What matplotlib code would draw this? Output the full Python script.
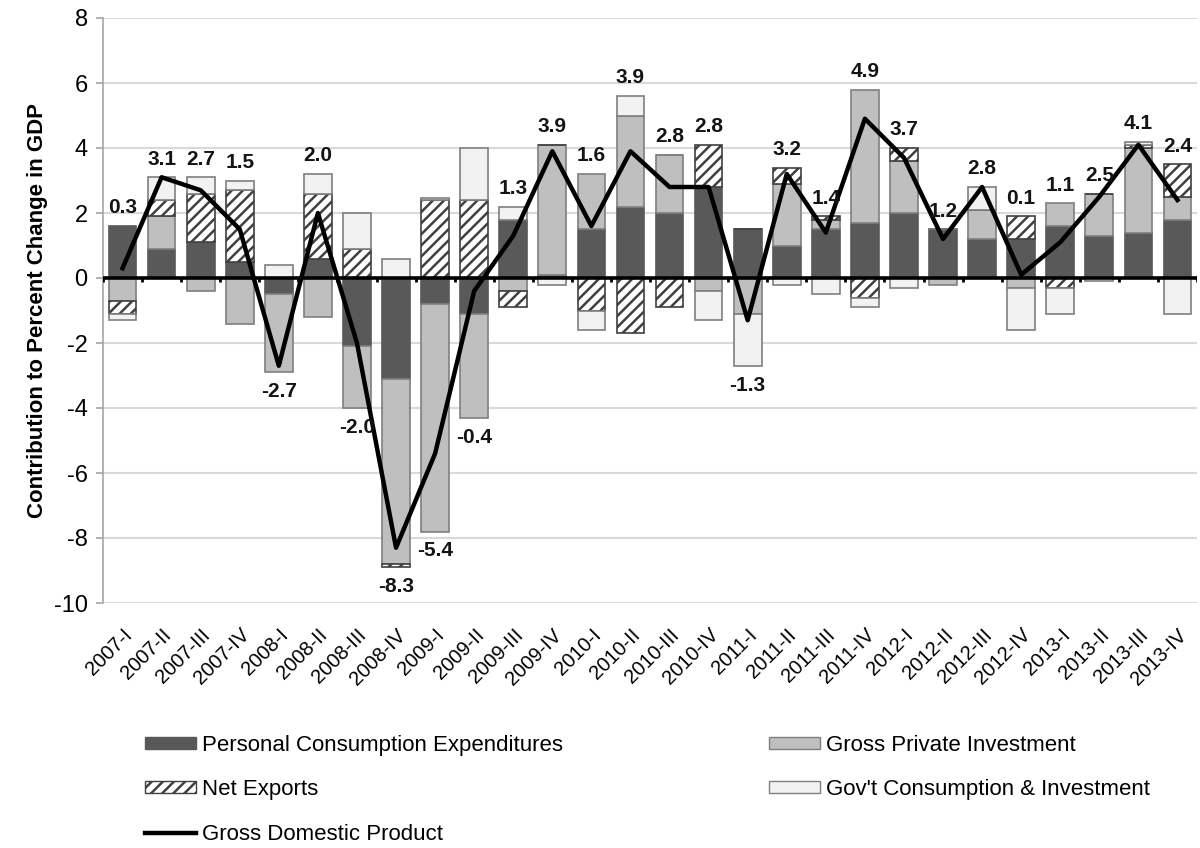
import numpy as np
import matplotlib
matplotlib.use('Agg')
import matplotlib.pyplot as plt
from matplotlib.patches import Patch
from matplotlib.lines import Line2D

plt.rcParams['font.family'] = ['Liberation Sans', 'DejaVu Sans']
plt.rcParams['hatch.linewidth'] = 1.8
plt.rcParams['axes.unicode_minus'] = False

quarters = ['2007-I', '2007-II', '2007-III', '2007-IV', '2008-I', '2008-II', '2008-III', '2008-IV',
            '2009-I', '2009-II', '2009-III', '2009-IV', '2010-I', '2010-II', '2010-III', '2010-IV',
            '2011-I', '2011-II', '2011-III', '2011-IV', '2012-I', '2012-II', '2012-III', '2012-IV',
            '2013-I', '2013-II', '2013-III', '2013-IV']
pce = [1.6, 0.9, 1.1, 0.5, -0.5, 0.6, -2.1, -3.1, -0.8, -1.1, 1.8, 0.1, 1.5, 2.2,
       2.0, 2.8, 1.5, 1.0, 1.5, 1.7, 2.0, 1.5, 1.2, 1.2, 1.6, 1.3, 1.4, 1.8]
gpi = [-0.7, 1.0, -0.4, -1.4, -2.4, -1.2, -1.9, -5.7, -7.0, -3.2, -0.4, 4.0, 1.7, 2.8,
       1.8, -0.4, -1.1, 1.9, 0.3, 4.1, 1.6, -0.2, 0.9, -0.3, 0.7, 1.3, 2.6, 0.7]
nx = [-0.4, 0.5, 1.5, 2.2, 0.0, 2.0, 0.9, -0.1, 2.4, 2.4, -0.5, 0.0, -1.0, -1.7,
      -0.9, 1.3, 0.0, 0.5, 0.1, -0.6, 0.4, 0.0, 0.0, 0.7, -0.3, 0.0, 0.1, 1.0]
gov = [-0.2, 0.7, 0.5, 0.3, 0.4, 0.6, 1.1, 0.6, 0.05, 1.6, 0.4, -0.2, -0.6, 0.6,
       0.0, -0.9, -1.6, -0.2, -0.5, -0.3, -0.3, 0.0, 0.7, -1.3, -0.8, -0.1, 0.1, -1.1]
gdp = [0.3, 3.1, 2.7, 1.5, -2.7, 2.0, -2.0, -8.3, -5.4, -0.4, 1.3, 3.9, 1.6, 3.9,
       2.8, 2.8, -1.3, 3.2, 1.4, 4.9, 3.7, 1.2, 2.8, 0.1, 1.1, 2.5, 4.1, 2.4]

series = [('Personal Consumption Expenditures', pce, dict(facecolor='#595959', edgecolor='#595959')),
          ('Gross Private Investment', gpi, dict(facecolor='#bfbfbf', edgecolor='#7f7f7f')),
          ('Net Exports', nx, dict(facecolor='white', edgecolor='#404040', hatch='///')),
          ("Gov't Consumption & Investment", gov, dict(facecolor='#f2f2f2', edgecolor='#7f7f7f'))]

fig = plt.figure(figsize=(12, 8.48), dpi=100)
ax = fig.add_axes([103/1200, 1-603/848, 1094/1200, 585/848])
x = np.arange(len(quarters))
pos_base = np.zeros(len(x)); neg_base = np.zeros(len(x))
for name, vals, st in series:
    v = np.array(vals, dtype=float)
    base = np.where(v >= 0, pos_base, neg_base)
    ax.bar(x, v, 0.71, bottom=base, linewidth=1.2, zorder=2, **st)
    pos_base += np.clip(v, 0, None); neg_base += np.clip(v, None, 0)

ax.axhline(0, color='black', lw=2.6, zorder=3)
ax.vlines(np.arange(len(x)+1)-0.5, -0.13, 0, color='black', lw=2, zorder=3)
ax.plot(x, gdp, color='black', lw=3.2, zorder=4)

for i, g in enumerate(gdp):
    if g >= 0:
        ax.annotate(f'{g:.1f}', (x[i], max(pos_base[i], g)), xytext=(0, 13), textcoords='offset points',
                    ha='center', va='center', fontsize=15, fontweight='bold', color='#141414', zorder=5)
    else:
        ax.annotate(f'{g:.1f}', (x[i], min(neg_base[i], g)), xytext=(0, -14), textcoords='offset points',
                    ha='center', va='center', fontsize=15, fontweight='bold', color='#141414', zorder=5)

ax.set_xlim(-0.5, len(x)-0.5)
ax.set_ylim(-10, 8)
ax.set_yticks(np.arange(-10, 9, 2))
ax.yaxis.grid(True, color='#d9d9d9', lw=1.5, zorder=0)
ax.set_axisbelow(True)
for s in ['top', 'right', 'bottom']:
    ax.spines[s].set_visible(False)
ax.spines['left'].set_color('#a6a6a6')
ax.spines['left'].set_linewidth(1.2)
ax.tick_params(axis='y', labelsize=17, length=5, color='#a6a6a6', width=1.2, pad=6)
ax.set_xticks(x)
ax.set_xticklabels(quarters, rotation=45, ha='right', rotation_mode='anchor', fontsize=14.5)
ax.tick_params(axis='x', length=0, pad=16)
ax.set_ylabel('Contribution to Percent Change in GDP', fontsize=16, fontweight='bold', labelpad=4)

h = [Patch(**series[0][2]), Patch(**series[2][2]), Line2D([], [], color='black', lw=3.2),
     Patch(**series[1][2]), Patch(**series[3][2])]
kw = dict(frameon=False, fontsize=16, handlelength=2.3, handleheight=0.45, handletextpad=0.25,
          labelspacing=1.05, borderpad=0, borderaxespad=0, loc='upper left')
fig.legend(h[:3], [series[0][0], series[2][0], 'Gross Domestic Product'],
           bbox_to_anchor=(145/1200, 1-735/848), **kw)
fig.legend(h[3:], [series[1][0], series[3][0]], bbox_to_anchor=(769/1200, 1-735/848), **kw)

fig.savefig('out.png', dpi=100)
